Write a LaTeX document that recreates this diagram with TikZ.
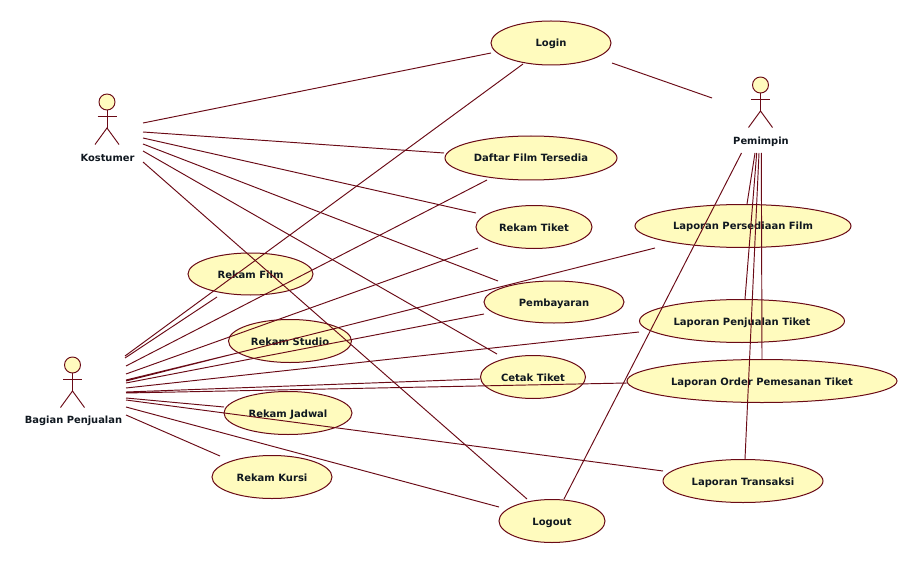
\documentclass[tikz,border=0pt]{standalone}
\usepackage{fontspec}
\setmainfont{DejaVu Sans}
\usetikzlibrary{shapes.geometric}
\definecolor{umlline}{HTML}{6A0A16}
\definecolor{umlfill}{HTML}{FFFBBE}
\definecolor{umltext}{HTML}{101820}
\tikzset{
  usecase/.style={draw=umlline,fill=umlfill,line width=1pt,ellipse,inner sep=0pt,text=umltext,font=\fontsize{10}{12}\selectfont\bfseries},
  assoc/.style={draw=umlline,line width=0.95pt},
  actorname/.style={text=umltext,font=\fontsize{9.9}{12}\selectfont\bfseries,inner sep=0pt},
}
\newcommand{\ucase}[6]{\node[usecase,minimum width=#4pt,minimum height=#5pt] (#1) at (#2,#3) {\raisebox{-1.5pt}[7pt][2pt]{#6}};}
\newcommand{\actorfig}[3]{%
  \begin{scope}[shift={(#2,#3)}]
    \draw[assoc,fill=umlfill] (0,0) circle[radius=8];
    \draw[assoc] (-9.5,14.5) -- (9.5,14.5);
    \draw[assoc] (0,8) -- (0,26);
    \draw[assoc] (-12,42.5) -- (0,26) -- (12,42.5);
    \coordinate (#1) at (0,0);
  \end{scope}}
\begin{document}
\begin{tikzpicture}[x=1pt,y=-1pt]
\useasboundingbox (0,0) rectangle (912,564);
\fill[white] (0,0) rectangle (912,564);

% use cases first: every connector runs over them
\ucase{login}{551}{43}{120}{44}{Login}
\ucase{daftar}{531}{158}{172}{44}{Daftar Film Tersedia}
\ucase{tiket}{534}{227}{116}{43}{Rekam Tiket}
\ucase{persediaan}{743}{226}{216}{43}{Laporan Persediaan Film}
\ucase{film}{250.5}{274}{125}{42}{Rekam Film}
\ucase{studio}{290}{341}{123}{43}{Rekam Studio}
\ucase{bayar}{554}{302}{140}{42}{Pembayaran}
\ucase{penjualan}{742}{321}{205}{43}{Laporan Penjualan Tiket}
\ucase{cetak}{533}{377}{105}{43}{Cetak Tiket}
\ucase{order}{762}{381}{270}{43}{Laporan Order Pemesanan Tiket}
\ucase{jadwal}{288}{413}{128}{43}{Rekam Jadwal}
\ucase{kursi}{272}{477}{120}{43}{Rekam Kursi}
\ucase{transaksi}{743}{481}{160}{43}{Laporan Transaksi}
\ucase{logout}{552}{521}{106}{43}{Logout}

% connector free ends
\foreach \n/\x/\y in {
 ka/143/123, kb/143/132, kc/143/138, kd/143/144, ke/143/151, kf/143/162,
 la/491/53, lb/444/153, lc/476/213, ld/498/281, le/497/354, lf/527/499,
 pa/612/63, pb/712/98,
 qa/741.5/153, qb/755/153, qc/756.7/153, qd/759/153, qe/761.3/153,
 ra/564/499, rb/747/204, rc/745/299, rd/745/459, re/762/359,
 ba/125/356, bb/125/358, bc/126/366, bd/126/374, be/126/380, bf/126/381, bg/126/383, bh/126/388, bi/126/392, bj/126/393, bk/126/398, bl/126/400, bm/126/407, bn/126/415,
 ca/523/64, cb/217/297, cc/487/180, cd/478/248, ce/229/355, cf/655/248, cg/484/314, ch/639/332, ci/480/379, cj/627/383, ck/224/407, cl/663/471, cm/499/507, cn/220/456}
 {\coordinate (\n) at (\x,\y);}

\draw[assoc] (ka)--(la) (kb)--(lb) (kc)--(lc) (kd)--(ld) (ke)--(le) (kf)--(lf);
\draw[assoc] (pa)--(pb);
\draw[assoc] (qa)--(ra) (qb)--(rb) (qc)--(rc) (qd)--(rd) (qe)--(re);
\draw[assoc] (ba)--(ca) (bb)--(cb) (bc)--(cc) (bd)--(cd) (be)--(ce) (bf)--(cf) (bg)--(cg) (bh)--(ch) (bi)--(ci) (bj)--(cj) (bk)--(ck) (bl)--(cl) (bm)--(cm) (bn)--(cn);

\actorfig{kactor}{107}{102}
\actorfig{bactor}{72.5}{365}
\actorfig{pactor}{760.5}{85}
\node[actorname] (kname) at (107.5,157.5) {Kostumer};
\node[actorname] (bname) at (73.5,420.5) {Bagian Penjualan};
\node[actorname] (pname) at (761,141.5) {Pemimpin};
\end{tikzpicture}
\end{document}
